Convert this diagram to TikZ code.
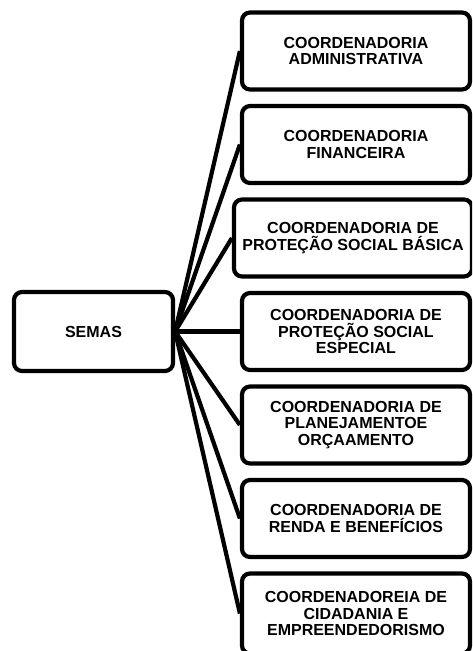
\documentclass[tikz,border=0pt]{standalone}
\usepackage{fontspec}
\setmainfont{Liberation Sans}
\usetikzlibrary{positioning}

\tikzset{
	box/.style={draw, line width=4.2pt, rounded corners=8pt, align=center,
		inner sep=2pt, font=\fontsize{16}{16.8}\selectfont\bfseries},
	root/.style={box, minimum width=159pt, minimum height=79pt},
	coord/.style={box, minimum width=228pt, minimum height=77pt},
}

\begin{document}
\begin{tikzpicture}[x=1pt,y=1pt,node distance=93.5pt,on grid]
	\useasboundingbox (0,0) rectangle (472,-651);
	\clip (0,0) rectangle (472,-651);
	\node[root] (semas) at (93.5,-331.5) {SEMAS};
	\node[coord] (c_4) [right=262.5pt of semas] {COORDENADORIA DE\\PROTEÇÃO SOCIAL\\ESPECIAL};
	\node[coord,minimum width=238pt] (c_3) [above=of c_4,xshift=-3pt] {COORDENADORIA DE\\PROTEÇÃO SOCIAL BÁSICA};
	\node[coord] (c_2) [above=187pt of c_4] {COORDENADORIA\\FINANCEIRA};
	\node[coord] (c_1) [above=of c_2] {COORDENADORIA\\ADMINISTRATIVA};
	\node[coord] (c_5) [below=of c_4] {COORDENADORIA DE\\PLANEJAMENTOE\\ORÇAAMENTO};
	\node[coord] (c_6) [below=of c_5] {COORDENADORIA DE\\RENDA E BENEFÍCIOS};
	% last box runs off the lower edge
	\node[coord,minimum height=80pt] (c_7) [below=of c_6,yshift=-1.5pt] {COORDENADOREIA DE\\CIDADANIA E\\EMPREENDEDORISMO};
	\path[draw,line width=4.2pt]
	 (semas.east) edge (c_1.west)
	 	      edge (c_2.west)
	 	      edge (c_3.west)
	 	      edge (c_4.west)
	 	      edge (c_5.west)
	 	      edge (c_6.west)
	 	      edge (c_7.west);
\end{tikzpicture}
\end{document}
